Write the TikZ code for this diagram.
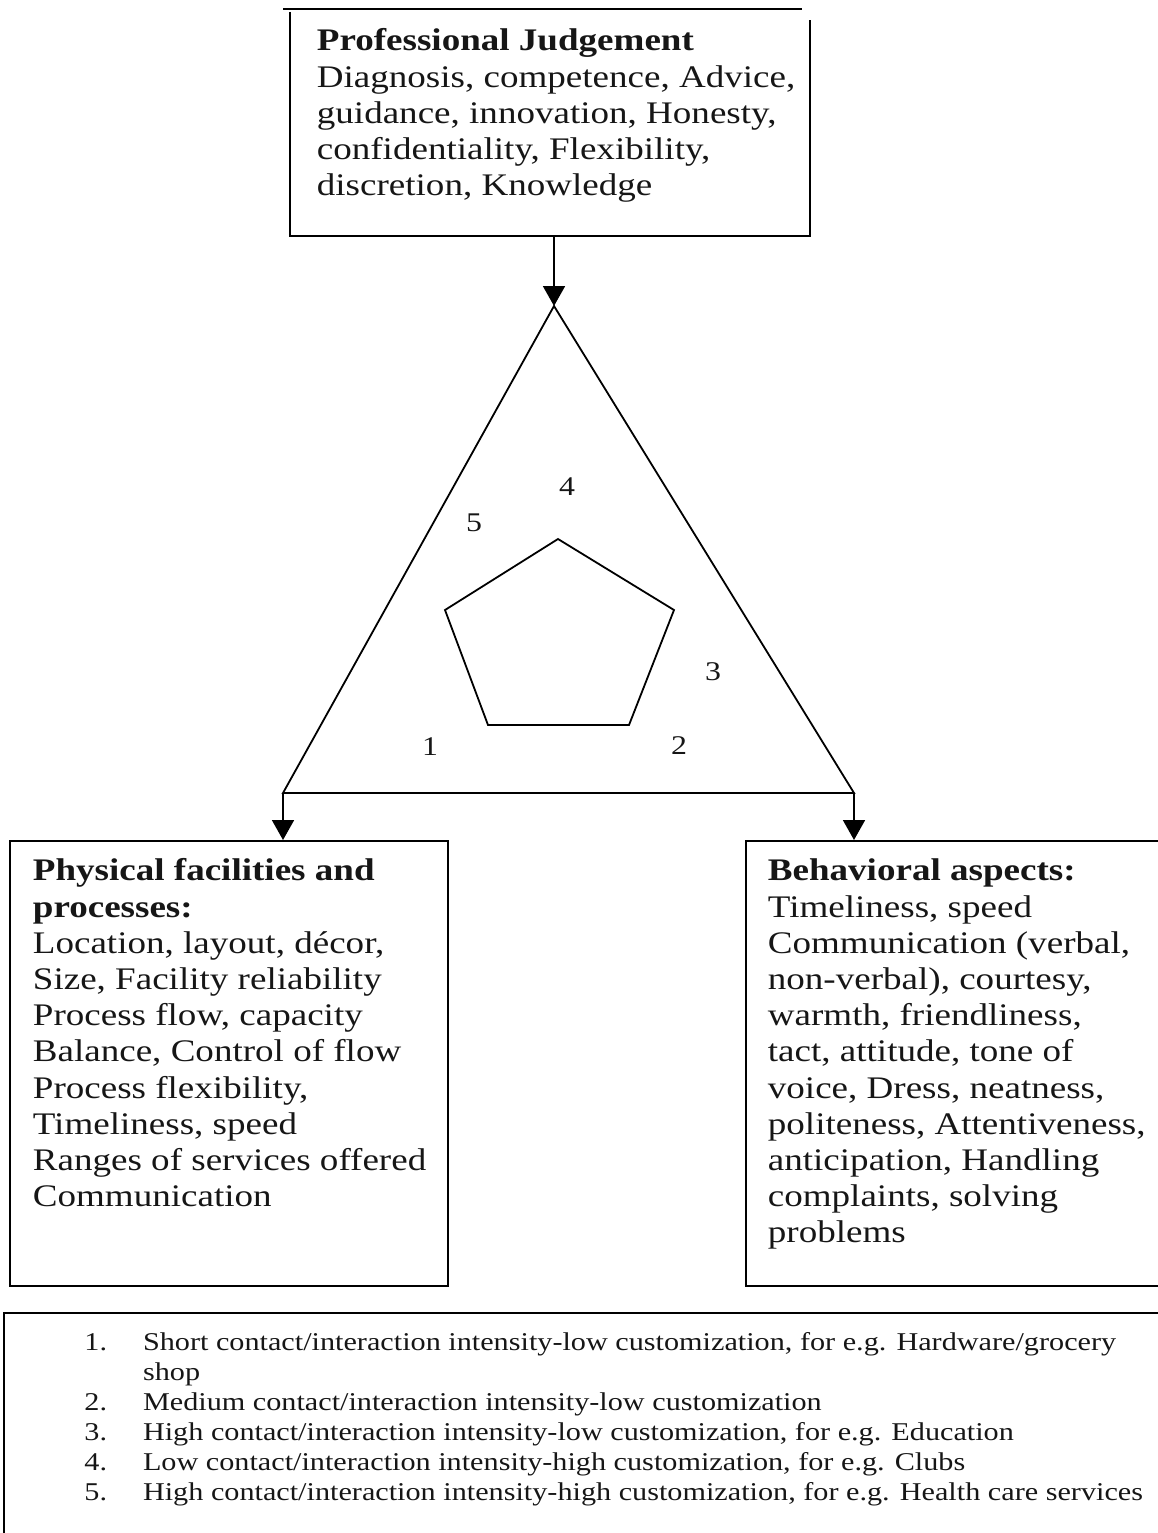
\documentclass[tikz,border=0pt]{standalone}
\usepackage{fontspec}
\setmainfont[FakeStretch=1.18]{Liberation Serif}
\usetikzlibrary{arrows.meta}
\definecolor{ink}{HTML}{161616}
\begin{document}
\begin{tikzpicture}[x=1pt,y=-1pt,line width=1.8pt,
  boxtext/.style={anchor=north west,inner sep=0pt,align=left,text=ink,
    font=\fontsize{31.4}{36.2}\selectfont},
  numlbl/.style={inner sep=0pt,text=ink,font=\fontsize{27}{30}\selectfont},
  arr/.style={-{Triangle[width=22pt,length=20pt]}},
  panel/.style={draw,inner sep=0pt,anchor=north west}]
\useasboundingbox (0,0) rectangle (1157,1533);

% top box: professional judgement
\draw (283,9) -- (802,9);
\draw (290,12) -- (290,236) -- (810,236) -- (810,20);
\node[boxtext] (pj) at (316,26) {\rule{0pt}{24pt}\textbf{Professional Judgement}\\
  Diagnosis, competence, Advice,\\
  guidance, innovation, Honesty,\\
  confidentiality, Flexibility,\\
  discretion, Knowledge};
\coordinate (pjb) at (554,236);

% triangle with the pentagon inside
\coordinate (apex) at (554,306);
\coordinate (bl) at (283,793);
\coordinate (br) at (854,793);
\draw (apex) -- (bl) -- (br) -- cycle;
\draw (558,539) -- (674,610) -- (629,725) -- (488,725) -- (445,610) -- cycle;

\node[numlbl] (n4) at (567,487) {4};
\node[numlbl] (n5) at (474,523) {5};
\node[numlbl] (n3) at (713,672) {3};
\node[numlbl] (n2) at (679,746) {2};
\node[numlbl] (n1) at (430,747) {1};

% lower panels
\node[panel,minimum width=438pt,minimum height=445pt] (pfbox) at (9,840) {};
\node[panel,minimum width=430pt,minimum height=445pt] (babox) at (745,840) {};

\node[boxtext] (pf) at (32,856) {\rule{0pt}{24pt}\textbf{Physical facilities and}\\
  \textbf{processes:}\\
  Location, layout, décor,\\
  Size, Facility reliability\\
  Process flow, capacity\\
  Balance, Control of flow\\
  Process flexibility,\\
  Timeliness, speed\\
  Ranges of services offered\\
  Communication};

\node[boxtext] (ba) at (767,856) {\rule{0pt}{24pt}\textbf{Behavioral aspects:}\\
  Timeliness, speed\\
  Communication (verbal,\\
  non-verbal), courtesy,\\
  warmth, friendliness,\\
  tact, attitude, tone of\\
  voice, Dress, neatness,\\
  politeness, Attentiveness,\\
  anticipation, Handling\\
  complaints, solving\\
  problems};

% connectors
\draw[arr] (pjb) -- (apex);
\draw[arr] (bl) -- (bl |- pfbox.north);
\draw[arr] (br) -- (br |- babox.north);

% legend
\draw (1170,1313) -- (4,1313) -- (4,1545);
\node[anchor=north west,inner sep=0pt,text=ink,font=\fontsize{25.6}{30}\selectfont] (legend) at (83.5,1329)
{\begin{tabular}{@{}r@{\hspace{36pt}}l@{}}
1. & Short contact/interaction intensity-low customization, for e.g. Hardware/grocery\\
   & shop\\
2. & Medium contact/interaction intensity-low customization\\
3. & High contact/interaction intensity-low customization, for e.g. Education\\
4. & Low contact/interaction intensity-high customization, for e.g. Clubs\\
5. & High contact/interaction intensity-high customization, for e.g. Health care services
\end{tabular}};
\end{tikzpicture}
\end{document}
